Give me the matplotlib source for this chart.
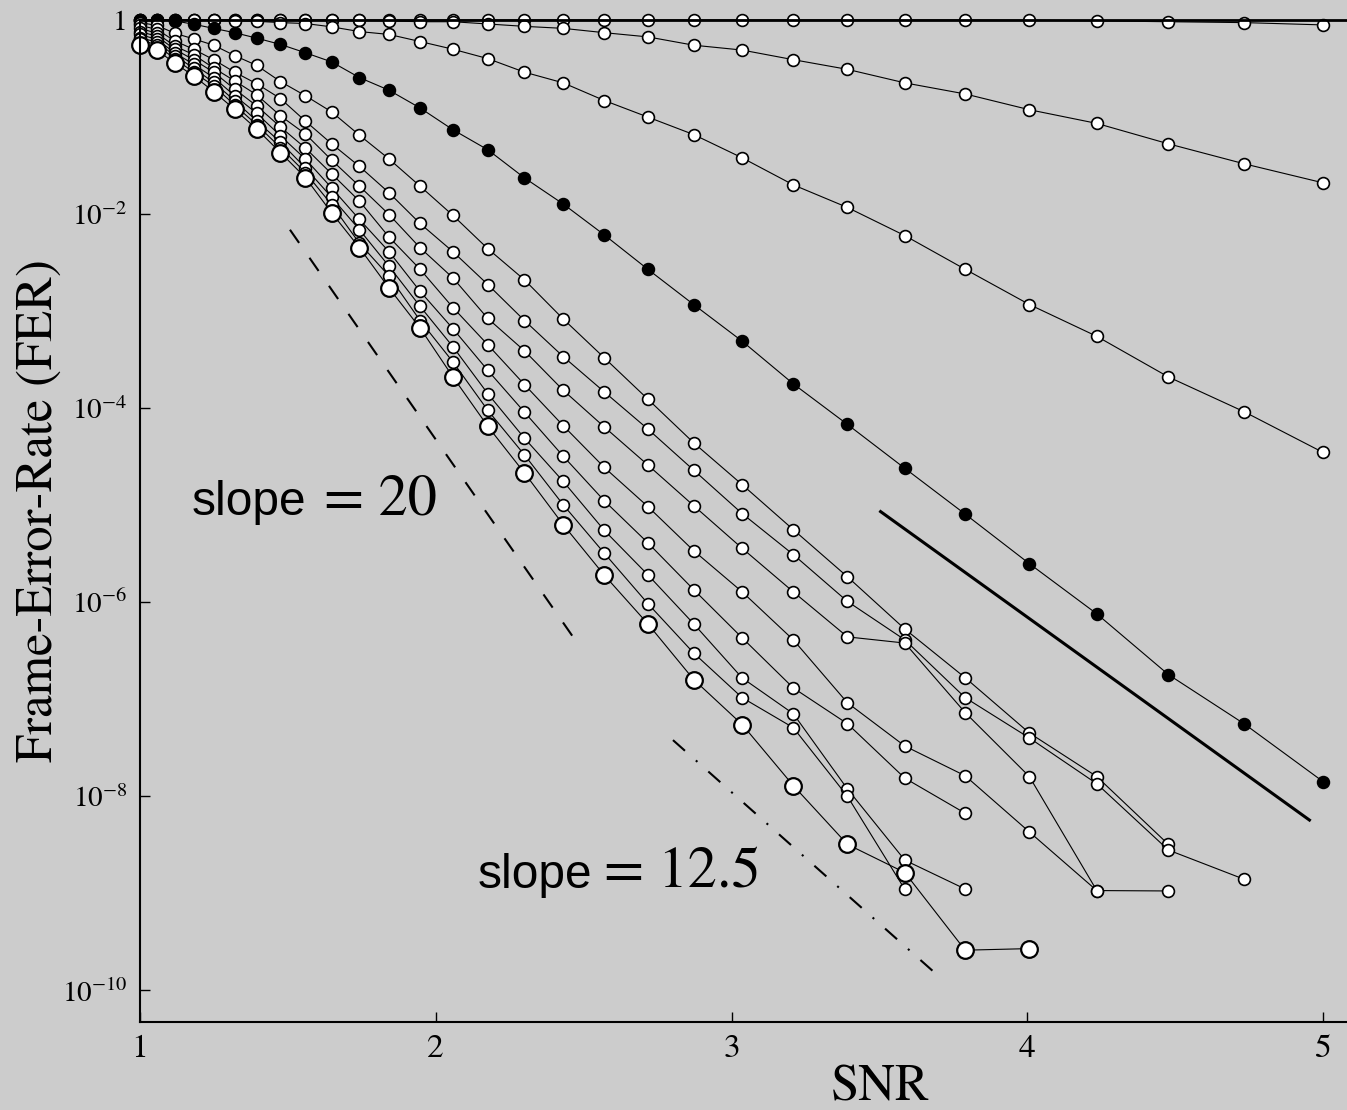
import matplotlib
matplotlib.use('agg')
from matplotlib import pyplot as plt
from matplotlib.ticker import NullLocator

plt.rcParams['mathtext.fontset'] = 'stix'
plt.rcParams['font.family'] = 'STIXGeneral'

# SNR grid shared by all curves
snr = [1.000, 1.057, 1.117, 1.181, 1.249, 1.320, 1.395, 1.475, 1.559, 1.648,
       1.742, 1.842, 1.947, 2.058, 2.176, 2.300, 2.431, 2.570, 2.717, 2.872,
       3.036, 3.209, 3.392, 3.586, 3.790, 4.007, 4.235, 4.477, 4.733, 5.000]

# FER curves (top to bottom)
fer_1 = [1.0, 1.0, 1.0, 1.0, 1.0, 1.0, 1.0, 1.0, 1.0, 1.0, 1.0, 1.0, 1.0, 1.0, 1.0,
         1.0, 1.0, 1.0, 1.0, 1.0, 1.0, 1.0, 1.0, 1.0, 1.0, 0.995, 0.98, 0.96, 0.94, 0.89]
fer_2 = [1.0, 1.0, 1.0, 1.0, 1.0, 1.0, 1.0, 1.0, 1.0, 0.995, 0.99, 0.98, 0.96, 0.96, 0.91,
         0.86, 0.82, 0.74, 0.67, 0.55, 0.49, 0.39, 0.31, 0.225, 0.173, 0.119, 0.086, 0.053, 0.033, 0.021]
fer_3 = [1.0, 1.0, 1.0, 0.995, 0.99, 0.98, 0.97, 0.94, 0.92, 0.85, 0.76, 0.71, 0.60, 0.50, 0.40,
         0.29, 0.225, 0.148, 0.100, 0.066, 0.038, 0.020, 0.0117, 0.0060, 2.7e-3, 1.17e-3, 5.5e-4,
         2.1e-4, 9.2e-5, 3.5e-5]
fer_4 = [1.0, 1.0, 0.98, 0.905, 0.82, 0.74, 0.65, 0.56, 0.46, 0.37, 0.255, 0.189, 0.124, 0.074,
         0.046, 0.0236, 0.0127, 6.1e-3, 2.7e-3, 1.17e-3, 4.9e-4, 1.78e-4, 6.8e-5, 2.4e-5, 8.1e-6,
         2.5e-6, 7.6e-7, 1.8e-7, 5.6e-8, 1.42e-8]
fer_5 = [0.94, 0.88, 0.73, 0.64, 0.55, 0.43, 0.34, 0.232, 0.166, 0.113, 0.065, 0.037, 0.0194,
         9.7e-3, 4.4e-3, 2.1e-3, 8.3e-4, 3.3e-4, 1.24e-4, 4.4e-5, 1.63e-5, 5.6e-6, 1.83e-6, 5.3e-7,
         1.67e-7, 4.5e-8, 1.60e-8, 3.2e-9]
fer_6 = [0.88, 0.80, 0.61, 0.50, 0.39, 0.29, 0.22, 0.155, 0.091, 0.053, 0.031, 0.0166, 8.0e-3,
         4.1e-3, 1.88e-3, 8.0e-4, 3.4e-4, 1.47e-4, 6.1e-5, 2.3e-5, 8.2e-6, 3.1e-6, 1.02e-6, 4.1e-7,
         1.04e-7, 4.0e-8, 1.35e-8, 2.8e-9, 1.40e-9]
fer_7 = [0.82, 0.73, 0.54, 0.44, 0.32, 0.236, 0.169, 0.103, 0.067, 0.036, 0.0194, 9.9e-3, 4.5e-3,
         2.2e-3, 8.4e-4, 3.9e-4, 1.53e-4, 6.4e-5, 2.6e-5, 9.9e-6, 3.6e-6, 1.28e-6, 4.4e-7, 3.8e-7,
         7.3e-8, 1.60e-8, 1.07e-9, 1.06e-9]
fer_8 = [0.76, 0.68, 0.50, 0.39, 0.29, 0.194, 0.130, 0.079, 0.048, 0.026, 0.0136, 5.8e-3, 2.7e-3,
         1.09e-3, 4.5e-4, 1.75e-4, 6.6e-5, 2.45e-5, 9.7e-6, 3.4e-6, 1.28e-6, 4.1e-7, 9.2e-8, 3.3e-8,
         1.63e-8, 4.3e-9, 1.07e-9]
fer_9 = [0.71, 0.63, 0.46, 0.35, 0.255, 0.166, 0.109, 0.064, 0.037, 0.0186, 8.8e-3, 4.1e-3, 1.6e-3,
         6.6e-4, 2.45e-4, 9.1e-5, 3.2e-5, 1.11e-5, 4.1e-6, 1.35e-6, 4.3e-7, 1.31e-7, 5.6e-8, 1.54e-8,
         6.7e-9]
fer_10 = [0.66, 0.59, 0.43, 0.32, 0.227, 0.148, 0.091, 0.055, 0.030, 0.0149, 6.9e-3, 2.9e-3, 1.12e-3,
          4.3e-4, 1.41e-4, 4.9e-5, 1.76e-5, 5.5e-6, 1.92e-6, 6.0e-7, 1.66e-7, 7.1e-8, 1.19e-8, 2.2e-9,
          1.11e-9]
fer_11 = [0.63, 0.55, 0.40, 0.29, 0.21, 0.133, 0.083, 0.0485, 0.0268, 0.0125, 5.0e-3, 2.3e-3, 8.0e-4,
          3.0e-4, 9.5e-5, 3.3e-5, 1.01e-5, 3.2e-6, 9.7e-7, 3.0e-7, 1.04e-7, 5.1e-8, 1.0e-8, 1.1e-9]
fer_12 = [0.555, 0.49, 0.36, 0.266, 0.183, 0.120, 0.075, 0.043, 0.0238, 0.0103, 4.5e-3, 1.73e-3,
          6.7e-4, 2.1e-4, 6.5e-5, 2.15e-5, 6.3e-6, 1.90e-6, 6.0e-7, 1.60e-7, 5.5e-8, 1.29e-8, 3.2e-9,
          1.64e-9, 2.6e-10, 2.7e-10]

small_curves = [fer_1, fer_2, fer_3]
lower_curves = [fer_5, fer_6, fer_7, fer_8, fer_9, fer_10, fer_11]

# slope reference lines (end points)
dashed_x, dashed_y = [1.507, 2.471], [6.9e-3, 4.1e-7]
dashdot_x, dashdot_y = [2.802, 3.695], [3.8e-8, 1.45e-10]
solid_x, solid_y = [3.504, 4.954], [8.6e-6, 5.7e-9]

# slope annotations: (x of "slope", x of "= value", baseline FER, value text)
slope_notes = [(1.176, 1.622, 8.0e-6, '= 20'),
               (2.143, 2.569, 1.14e-9, '= 12.5')]

ytick_vals = [1e-10, 1e-8, 1e-6, 1e-4, 1e-2, 1]
ytick_labels = ['$10^{-10}$', '$10^{-8}$', '$10^{-6}$', '$10^{-4}$', '$10^{-2}$', '1']
xtick_vals = [1, 2, 3, 4, 5]

bg = '#cccccc'


def draw_curve(ax, fer, face='white', ms=8.5, mew=1.2):
    ax.plot(snr[:len(fer)], fer, '-', color='k', lw=0.8, marker='o', ms=ms,
            mfc=face, mec='k', mew=mew, clip_on=False)


def main():
    fig = plt.figure(figsize=(13.47, 11.10), dpi=100, facecolor=bg)
    ax = fig.add_axes([140/1347, 88/1110, 1207/1347, 1002/1110], facecolor=bg)
    ax.set_yscale('log')
    ax.set_xlim(1, 5.081)
    ax.set_ylim(10**-10.325, 1)

    # reference slopes
    ax.plot(dashed_x, dashed_y, color='k', lw=1.5, dashes=(7.7, 8.7))
    ax.plot(dashdot_x, dashdot_y, color='k', lw=1.5, dashes=(7.7, 7, 1, 7))
    ax.plot(solid_x, solid_y, color='k', lw=2.2)

    for fer in small_curves:
        draw_curve(ax, fer)
    draw_curve(ax, fer_4, face='k')
    for fer in lower_curves:
        draw_curve(ax, fer)
    draw_curve(ax, fer_12, ms=12, mew=1.6)

    for xs, xv, yb, val in slope_notes:
        ax.text(xs, yb, 'slope', family='Liberation Sans', fontsize=34.5,
                ha='left', va='baseline')
        ax.text(xv, yb, val, fontsize=42, ha='left', va='baseline')

    ax.set_yticks(ytick_vals)
    ax.set_yticklabels(ytick_labels)
    ax.yaxis.set_minor_locator(NullLocator())
    ax.set_xticks(xtick_vals)
    ax.set_xticklabels([str(v) for v in xtick_vals])
    ax.tick_params(direction='in', length=7, width=1.0, pad=9)
    ax.tick_params(axis='y', labelsize=21)
    ax.tick_params(axis='x', labelsize=24)

    ax.spines['right'].set_visible(False)
    ax.spines['left'].set_linewidth(1.5)
    ax.spines['bottom'].set_linewidth(1.5)
    ax.spines['top'].set_linewidth(2.0)

    fig.text(40/1347, 1 - 510/1110, 'Frame-Error-Rate (FER)', fontsize=36.5,
             rotation=90, ha='center', va='center')
    fig.text(880/1347, 1 - 1088/1110, 'SNR', fontsize=36.5, ha='center', va='center')

    fig.savefig('out.png', dpi=100, facecolor=bg)


if __name__ == '__main__':
    main()
